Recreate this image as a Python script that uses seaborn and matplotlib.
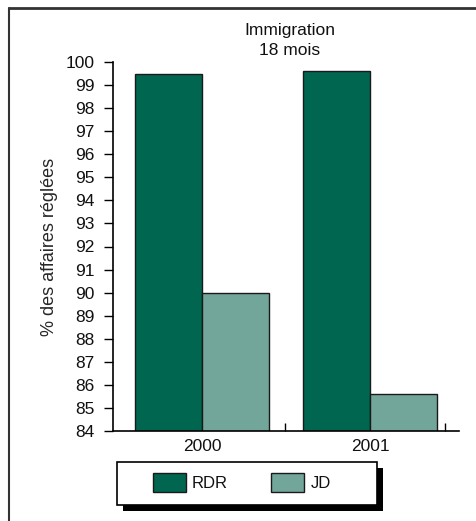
import matplotlib
matplotlib.use("Agg")
import matplotlib.pyplot as plt
from matplotlib.lines import Line2D
from matplotlib.patches import Rectangle
import seaborn as sns
import pandas as pd

# Data
years = ["2000", "2001"]
series = ["RDR", "JD"]
rdr = [99.5, 99.6]
jd = [90.0, 85.6]
yticks = list(range(84, 101))

colors = {"RDR": "#00664F", "JD": "#72A69A"}

sns.set_style("white")
plt.rcParams["font.family"] = ["Liberation Sans", "DejaVu Sans"]
plt.rcParams["text.color"] = "#111111"

W, H = 477, 521

df = pd.DataFrame({
    "year": years * 2,
    "series": ["RDR"] * len(years) + ["JD"] * len(years),
    "value": rdr + jd,
})

fig = plt.figure(figsize=(W / 100, H / 100), dpi=100)
ax = fig.add_axes([113 / W, 1 - 431 / H, (459 - 113) / W, (431 - 62) / H])

sns.barplot(data=df, x="year", y="value", hue="series", hue_order=series,
            palette=colors, saturation=1, width=0.8, edgecolor="#1a1a1a",
            linewidth=1.0, ax=ax)

ax.set_ylim(84, 100)
ax.set_xlim(-0.53, 1.53)
ax.set_yticks(yticks)
ax.set_yticklabels([str(v) for v in yticks], fontsize=12.5, color="#111111")
ax.set_xticks([0, 1])
ax.set_xticklabels(years, fontsize=12.5, color="#111111")
ax.tick_params(axis="x", length=0, pad=6)
ax.tick_params(axis="y", direction="out", length=6.5, width=1, color="black",
               pad=7, left=True)
ax.set_xticks([0.494, 1.446], minor=True)
ax.tick_params(axis="x", which="minor", direction="in", length=6, width=1,
               color="black", bottom=True)

for s in ["top", "right"]:
    ax.spines[s].set_visible(False)
for s in ["left", "bottom"]:
    ax.spines[s].set_color("black")
    ax.spines[s].set_linewidth(1.2)

ax.set_xlabel("")
ax.set_ylabel("% des affaires réglées", fontsize=13)
ax.yaxis.set_label_coords((58 - 113) / 346, 0.5)
ax.set_title("Immigration\n18 mois", fontsize=12.5, pad=5, linespacing=1.4,
             x=(290 - 113) / 346)

# legend box with solid drop shadow
handles, labels = ax.get_legend_handles_labels()
ax.get_legend().remove()
fig.add_artist(Rectangle((123 / W, 1 - 511 / H), 260 / W, 43 / H,
                         transform=fig.transFigure, facecolor="black",
                         edgecolor="black", lw=0, zorder=3))
fig.add_artist(Rectangle((117 / W, 1 - 505 / H), 260 / W, 43 / H,
                         transform=fig.transFigure, facecolor="white",
                         edgecolor="black", lw=1.2, zorder=4))
leg = fig.legend(handles, labels, loc="center left",
                 bbox_to_anchor=(153 / W, 1 - 482.5 / H),
                 ncol=2, fontsize=12, frameon=False,
                 handlelength=1.98, handleheight=1.38,
                 handletextpad=0.36, columnspacing=2.6, borderpad=0,
                 borderaxespad=0)
leg.set_zorder(5)

# outer frame lines (top and left)
fig.add_artist(Line2D([9 / W, 1.0], [1 - 8 / H, 1 - 8 / H],
                      transform=fig.transFigure, color="#333333", lw=2))
fig.add_artist(Line2D([9 / W, 9 / W], [1 - 8 / H, 0.0],
                      transform=fig.transFigure, color="#333333", lw=1.5))

fig.savefig("out.png", dpi=100)
